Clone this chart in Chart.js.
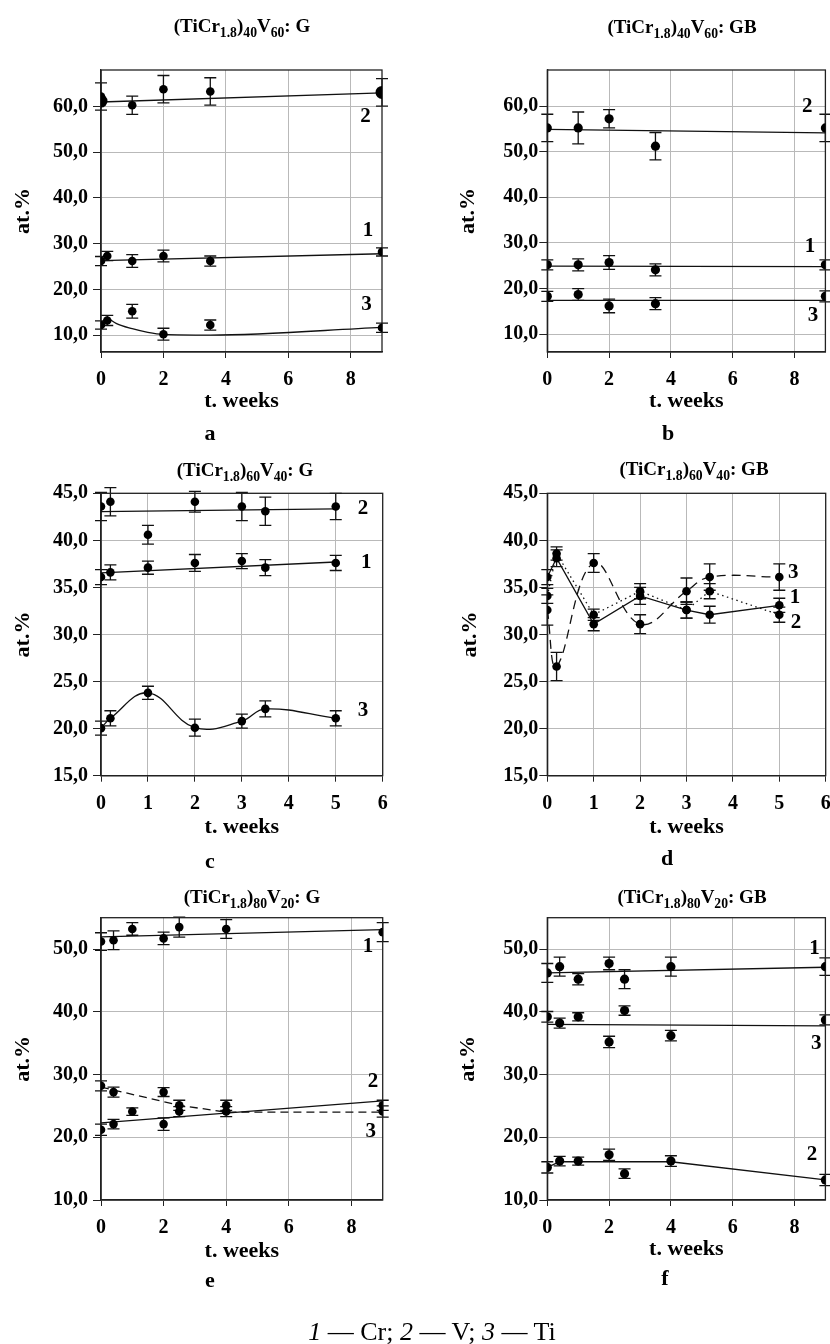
<!DOCTYPE html>
<html><head><meta charset="utf-8">
<script src="https://cdn.jsdelivr.net/npm/chart.js@4.4.1/dist/chart.umd.min.js"></script>
<style>
html,body{margin:0;padding:0;background:#fff;}
body{width:830px;height:1344px;position:relative;overflow:hidden;font-family:"Liberation Serif","Times New Roman",serif;color:#000;}
canvas{position:absolute;}
.ttl{position:absolute;transform:translate(-50%,-50%);font-weight:bold;font-size:19px;line-height:1;white-space:nowrap;}
.ttl sub{font-size:0.72em;vertical-align:baseline;position:relative;top:0.38em;}
.lt{position:absolute;transform:translate(-50%,-50%);font-weight:bold;font-size:22px;line-height:1;}
.cap{position:absolute;transform:translate(-50%,-50%);font-size:26px;line-height:1;white-space:nowrap;}
</style>
</head><body>
<canvas id="cA" width="415" height="440" style="left:0;top:0"></canvas>
<canvas id="cB" width="415" height="440" style="left:415px;top:0"></canvas>
<canvas id="cC" width="415" height="440" style="left:0;top:440px"></canvas>
<canvas id="cD" width="415" height="440" style="left:415px;top:440px"></canvas>
<canvas id="cE" width="415" height="464" style="left:0;top:880px"></canvas>
<canvas id="cF" width="415" height="464" style="left:415px;top:880px"></canvas>

<div class="ttl" style="left:242px;top:25px">(TiCr<sub>1.8</sub>)<sub>40</sub>V<sub>60</sub>: G</div>
<div class="ttl" style="left:682px;top:26px">(TiCr<sub>1.8</sub>)<sub>40</sub>V<sub>60</sub>: GB</div>
<div class="ttl" style="left:245px;top:469px">(TiCr<sub>1.8</sub>)<sub>60</sub>V<sub>40</sub>: G</div>
<div class="ttl" style="left:694px;top:468px">(TiCr<sub>1.8</sub>)<sub>60</sub>V<sub>40</sub>: GB</div>
<div class="ttl" style="left:252px;top:896px">(TiCr<sub>1.8</sub>)<sub>80</sub>V<sub>20</sub>: G</div>
<div class="ttl" style="left:692px;top:896px">(TiCr<sub>1.8</sub>)<sub>80</sub>V<sub>20</sub>: GB</div>

<div class="lt" style="left:210px;top:433px">a</div>
<div class="lt" style="left:668px;top:433px">b</div>
<div class="lt" style="left:210px;top:861px">c</div>
<div class="lt" style="left:667px;top:858px">d</div>
<div class="lt" style="left:210px;top:1280px">e</div>
<div class="lt" style="left:665px;top:1278px">f</div>

<div class="cap" style="left:432px;top:1332px"><i>1</i> — Cr; <i>2</i> — V; <i>3</i> — Ti</div>

<script>
// ---------- Panel a: (TiCr1.8)40V60: G ----------
const A_T = [0, 0.2, 1, 2, 3.5, 9];
const A_CR = [26.2, 27.3, 26.2, 27.3, 26.2, 28.2];
const A_CR_ERR = [1.0, 1.0, 1.4, 1.3, 1.1, 0.9];
const A_T_V = [0, 0, 1, 2, 3.5, 9];
const A_V = [62.2, 61.2, 60.3, 63.8, 63.3, 63.1];
const A_V_ERR = [3.0, 0, 2.0, 3.0, 3.0, 3.0];
const A_TI = [12.2, 13.2, 15.2, 10.2, 12.2, 11.6];
const A_TI_ERR = [0.9, 1.1, 1.5, 1.3, 1.1, 1.0];
const A_FIT_T = [0, 9];
const A_CR_FIT = [26.3, 27.8];
const A_V_FIT = [61.0, 63.0];
const A_TI_FIT_T = [0.2, 0.5, 1, 1.5, 2, 3.5, 9];
const A_TI_FIT = [13.8, 12.5, 11.4, 10.6, 10.15, 10.0, 11.7];

// ---------- Panel b: (TiCr1.8)40V60: GB ----------
const B_T = [0, 1, 2, 3.5, 9];
const B_V = [55.2, 55.2, 57.2, 51.2, 55.2];
const B_V_ERR = [3.0, 3.5, 2.0, 3.0, 3.0];
const B_CR = [25.2, 25.2, 25.7, 24.1, 25.2];
const B_CR_ERR = [1.1, 1.3, 1.5, 1.3, 1.1];
const B_TI = [18.3, 18.7, 16.2, 16.7, 18.3];
const B_TI_ERR = [1.1, 1.3, 1.5, 1.3, 1.2];
const B_FIT_T = [0, 9];
const B_V_FIT = [54.9, 54.1];
const B_CR_FIT = [24.9, 24.8];
const B_TI_FIT = [17.4, 17.4];

// ---------- Panel c: (TiCr1.8)60V40: G ----------
const C_T = [0, 0.2, 1, 2, 3, 3.5, 5];
const C_V = [43.6, 44.1, 40.6, 44.1, 43.6, 43.1, 43.6];
const C_V_ERR = [1.5, 1.5, 1.0, 1.1, 1.5, 1.5, 1.4];
const C_CR = [36.1, 36.6, 37.1, 37.6, 37.8, 37.1, 37.6];
const C_CR_ERR = [0.8, 0.8, 0.7, 0.9, 0.8, 0.85, 0.8];
const C_TI = [20.05, 21.1, 23.8, 20.1, 20.8, 22.1, 21.1];
const C_TI_ERR = [0.75, 0.8, 0.7, 0.9, 0.75, 0.85, 0.8];
const C_FIT_T = [0, 5];
const C_V_FIT = [43.05, 43.35];
const C_CR_FIT = [36.55, 37.7];

// ---------- Panel d: (TiCr1.8)60V40: GB ----------
const D_T = [0, 0.2, 1, 2, 3, 3.5, 5];
const D_CR = [34.1, 38.6, 32.1, 34.6, 32.6, 34.6, 32.1];
const D_CR_ERR = [0.8, 0.7, 0.6, 0.8, 0.85, 0.8, 0.8];
const D_V = [36.1, 38.1, 31.1, 34.1, 32.6, 32.1, 33.1];
const D_V_ERR = [0.8, 0.9, 0.7, 0.9, 0.85, 0.9, 0.75];
const D_TI = [32.6, 26.6, 37.6, 31.1, 34.6, 36.1, 36.1];
const D_TI_ERR = [1.6, 1.5, 1.0, 1.0, 1.4, 1.4, 1.4];

// ---------- Panel e: (TiCr1.8)80V20: G ----------
const E_T = [0, 0.4, 1, 2, 2.5, 4, 9];
const E_CR = [51.2, 51.4, 53.2, 51.7, 53.5, 53.2, 52.7];
const E_CR_ERR = [1.4, 1.5, 1.0, 1.0, 1.6, 1.5, 1.5];
const E_V = [28.2, 27.2, 24.1, 27.2, 25.1, 25.1, 25.1];
const E_V_ERR = [0.8, 0.8, 0.6, 0.7, 0.8, 0.8, 0.8];
const E_T_TI = [0, 0.4, 2, 2.5, 4, 9];
const E_TI = [21.2, 22.1, 22.1, 24.1, 24.1, 24.1];
const E_TI_ERR = [0.9, 0.75, 1.0, 0.8, 0.8, 0.9];
const E_FIT_T = [0, 9];
const E_CR_FIT = [51.95, 53.1];
const E_TI_FIT = [22.3, 25.8];
const E_V_FIT_T = [0, 2.5, 4, 9];
const E_V_FIT = [28.0, 25.1, 24.0, 24.0];

// ---------- Panel f: (TiCr1.8)80V20: GB ----------
const F_T = [0, 0.4, 1, 2, 2.5, 4, 9];
const F_CR = [46.2, 47.2, 45.2, 47.7, 45.2, 47.2, 47.2];
const F_CR_ERR = [1.5, 1.5, 0.9, 1.0, 1.5, 1.5, 1.4];
const F_TI = [39.2, 38.2, 39.2, 35.2, 40.2, 36.2, 38.7];
const F_TI_ERR = [0.85, 0.8, 0.65, 0.9, 0.75, 0.85, 0.8];
const F_V = [15.2, 16.2, 16.2, 17.2, 14.2, 16.2, 13.2];
const F_V_ERR = [0.9, 0.75, 0.65, 0.9, 0.75, 0.85, 0.9];
const F_FIT_T = [0, 9];
const F_CR_FIT = [46.2, 47.1];
const F_TI_FIT = [38.0, 37.75];
const F_V_FIT_T = [0, 0.4, 4, 9];
const F_V_FIT = [15.2, 16.1, 16.1, 13.2];

// ---------- tick values ----------
const X_TICKS_9 = [0, 2, 4, 6, 8];
const X_TICKS_6 = [0, 1, 2, 3, 4, 5, 6];
const Y_TICKS_60 = [10, 20, 30, 40, 50, 60];
const Y_TICKS_45 = [15, 20, 25, 30, 35, 40, 45];
const Y_TICKS_50 = [10, 20, 30, 40, 50];

// ---------- helpers ----------
const FONT = '"Liberation Serif", "Times New Roman", serif';
const toPts = (xs, ys) => xs.map((x, i) => ({x: x, y: ys[i]}));

function marks(xs, ys, errs, radius) {
  return {type: 'scatter', data: toPts(xs, ys), errs: errs, showLine: false,
    pointRadius: radius || 4.3, pointHoverRadius: radius || 4.3,
    pointBackgroundColor: '#000', pointBorderColor: '#000', pointBorderWidth: 0, order: 1};
}
function curve(xs, ys, dash, tension, mode) {
  return {type: 'line', data: toPts(xs, ys), showLine: true, borderColor: '#111',
    borderWidth: 1.3, borderDash: dash || [], pointRadius: 0, fill: false,
    tension: tension || 0, cubicInterpolationMode: mode || 'default', order: 2};
}

const errPlugin = {
  id: 'errbars',
  beforeDatasetsDraw(chart) {
    const ctx = chart.ctx, xs = chart.scales.x, ys = chart.scales.y;
    ctx.save();
    ctx.strokeStyle = '#111';
    ctx.lineWidth = 1.3;
    chart.data.datasets.forEach(ds => {
      if (!ds.errs) return;
      ds.data.forEach((p, i) => {
        const e = ds.errs[i];
        if (!e) return;
        const px = xs.getPixelForValue(p.x);
        const y1 = ys.getPixelForValue(p.y - e), y2 = ys.getPixelForValue(p.y + e);
        ctx.beginPath();
        ctx.moveTo(px, y1); ctx.lineTo(px, y2);
        ctx.moveTo(px - 6, y1); ctx.lineTo(px + 6, y1);
        ctx.moveTo(px - 6, y2); ctx.lineTo(px + 6, y2);
        ctx.stroke();
      });
    });
    ctx.restore();
  }
};
const boxPlugin = {
  id: 'plotbox',
  beforeDatasetsDraw(chart) {
    const a = chart.chartArea, ctx = chart.ctx;
    ctx.save();
    ctx.strokeStyle = '#222';
    ctx.lineWidth = 1.3;
    ctx.strokeRect(a.left, a.top, a.right - a.left, a.bottom - a.top);
    ctx.restore();
  }
};
const labelPlugin = {
  id: 'curveLabels',
  afterDatasetsDraw(chart, args, opts) {
    const ctx = chart.ctx, xs = chart.scales.x, ys = chart.scales.y;
    ctx.save();
    ctx.fillStyle = '#000';
    ctx.font = 'bold 21px ' + FONT;
    ctx.textAlign = 'center';
    ctx.textBaseline = 'middle';
    (opts.items || []).forEach(it => {
      ctx.fillText(it.t, xs.getPixelForValue(it.x), ys.getPixelForValue(it.y));
    });
    ctx.restore();
  }
};

function makeChart(id, g, ax, datasets, labels) {
  const tickFont = {family: FONT, size: 20, weight: 'bold'};
  const titleFont = {family: FONT, size: 22, weight: 'bold'};
  new Chart(document.getElementById(id), {
    type: 'scatter',
    data: {datasets: datasets},
    options: {
      responsive: false, animation: false, events: [],
      layout: {padding: {left: 0, top: g.T, right: g.W - g.R, bottom: 0}},
      plugins: {legend: {display: false}, tooltip: {enabled: false}, title: {display: false},
        curveLabels: {items: labels}},
      scales: {
        x: {type: 'linear', min: ax.xmin, max: ax.xmax,
          afterBuildTicks: s => { s.ticks = ax.xt.map(v => ({value: v})); },
          afterFit: s => { s.height = g.H - g.B; s.paddingLeft = 0; s.paddingRight = 0; },
          ticks: {font: tickFont, color: '#000', padding: 10, autoSkip: false, maxRotation: 0,
            callback: v => String(v)},
          grid: {color: '#b9b9b9', tickColor: '#222', tickLength: 6, lineWidth: 1},
          border: {color: '#222', width: 1.3},
          title: {display: true, text: 't. weeks', font: titleFont, color: '#000',
            padding: {top: 0, bottom: g.xPad}}
        },
        y: {type: 'linear', min: ax.ymin, max: ax.ymax,
          afterBuildTicks: s => { s.ticks = ax.yt.map(v => ({value: v})); },
          afterFit: s => { s.width = g.L; s.paddingTop = 0; s.paddingBottom = 0; },
          ticks: {font: tickFont, color: '#000', padding: g.yTickPad, autoSkip: false,
            callback: v => Number(v).toFixed(1).replace('.', ',')},
          grid: {color: '#b9b9b9', tickColor: '#222', tickLength: 8, lineWidth: 1},
          border: {color: '#222', width: 1.3},
          title: {display: true, text: 'at.%', font: titleFont, color: '#000',
            padding: {top: g.yPad, bottom: 0}}
        }
      }
    },
    plugins: [errPlugin, boxPlugin, labelPlugin]
  });
}

// ---------- panel a ----------
makeChart('cA',
  {W: 415, H: 440, L: 101, R: 382, T: 70, B: 352, xPad: 25, yPad: 10, yTickPad: 5},
  {xmin: 0, xmax: 9, xt: X_TICKS_9, ymin: 6.3, ymax: 68, yt: Y_TICKS_60},
  [
    marks(A_T, A_CR, A_CR_ERR),
    Object.assign(marks(A_T_V, A_V, A_V_ERR), {pointRadius: [4.3, 6.5, 4.3, 4.3, 4.3, 6.5]}),
    marks(A_T, A_TI, A_TI_ERR),
    curve(A_FIT_T, A_CR_FIT),
    curve(A_FIT_T, A_V_FIT),
    curve(A_TI_FIT_T, A_TI_FIT, [], 0, 'monotone')
  ],
  [{t: '2', x: 8.47, y: 57.8}, {t: '1', x: 8.55, y: 32.8}, {t: '3', x: 8.5, y: 16.6}]
);

// ---------- panel b ----------
makeChart('cB',
  {W: 415, H: 440, L: 132.3, R: 414.3, T: 70, B: 352, xPad: 25, yPad: 40, yTickPad: 1},
  {xmin: 0, xmax: 9, xt: X_TICKS_9, ymin: 6.1, ymax: 67.9, yt: Y_TICKS_60},
  [
    marks(B_T, B_V, B_V_ERR, 4.6),
    marks(B_T, B_CR, B_CR_ERR, 4.6),
    marks(B_T, B_TI, B_TI_ERR, 4.6),
    curve(B_FIT_T, B_V_FIT),
    curve(B_FIT_T, B_CR_FIT),
    curve(B_FIT_T, B_TI_FIT)
  ],
  [{t: '2', x: 8.41, y: 59.9}, {t: '1', x: 8.5, y: 29.3}, {t: '3', x: 8.6, y: 14.1}]
);

// ---------- panel c ----------
makeChart('cC',
  {W: 415, H: 440, L: 101, R: 382.7, T: 53.3, B: 335.7, xPad: 39, yPad: 10, yTickPad: 5},
  {xmin: 0, xmax: 6, xt: X_TICKS_6, ymin: 15, ymax: 45, yt: Y_TICKS_45},
  [
    marks(C_T, C_V, C_V_ERR),
    marks(C_T, C_CR, C_CR_ERR),
    marks(C_T, C_TI, C_TI_ERR),
    curve(C_FIT_T, C_V_FIT),
    curve(C_FIT_T, C_CR_FIT),
    curve(C_T, C_TI, [], 0.4)
  ],
  [{t: '2', x: 5.58, y: 43.4}, {t: '1', x: 5.65, y: 37.6}, {t: '3', x: 5.58, y: 21.9}]
);

// ---------- panel d ----------
makeChart('cD',
  {W: 415, H: 440, L: 132.3, R: 414.3, T: 53.3, B: 335.7, xPad: 39, yPad: 42, yTickPad: 1},
  {xmin: 0, xmax: 6, xt: X_TICKS_6, ymin: 15, ymax: 45, yt: Y_TICKS_45},
  [
    marks(D_T, D_CR, D_CR_ERR),
    marks(D_T, D_V, D_V_ERR),
    marks(D_T, D_TI, D_TI_ERR),
    curve(D_T, D_CR, [1.5, 3.5]),
    curve(D_T, D_V),
    curve(D_T, D_TI, [9, 6], 0.4)
  ],
  [{t: '3', x: 5.3, y: 36.6}, {t: '1', x: 5.34, y: 33.9}, {t: '2', x: 5.36, y: 31.3}]
);

// ---------- panel e ----------
makeChart('cE',
  {W: 415, H: 464, L: 101, R: 382.7, T: 37.7, B: 320, xPad: 79, yPad: 10, yTickPad: 5},
  {xmin: 0, xmax: 9, xt: X_TICKS_9, ymin: 10, ymax: 55, yt: Y_TICKS_50},
  [
    marks(E_T, E_CR, E_CR_ERR),
    marks(E_T, E_V, E_V_ERR),
    marks(E_T_TI, E_TI, E_TI_ERR),
    curve(E_FIT_T, E_CR_FIT),
    curve(E_V_FIT_T, E_V_FIT, [8, 5]),
    curve(E_FIT_T, E_TI_FIT)
  ],
  [{t: '1', x: 8.53, y: 50.4}, {t: '2', x: 8.69, y: 28.9}, {t: '3', x: 8.62, y: 20.9}]
);

// ---------- panel f ----------
makeChart('cF',
  {W: 415, H: 464, L: 132.3, R: 414.3, T: 37.7, B: 320, xPad: 81, yPad: 40, yTickPad: 1},
  {xmin: 0, xmax: 9, xt: X_TICKS_9, ymin: 10, ymax: 55, yt: Y_TICKS_50},
  [
    marks(F_T, F_CR, F_CR_ERR, 4.6),
    marks(F_T, F_TI, F_TI_ERR, 4.6),
    marks(F_T, F_V, F_V_ERR, 4.6),
    curve(F_FIT_T, F_CR_FIT),
    curve(F_FIT_T, F_TI_FIT),
    curve(F_V_FIT_T, F_V_FIT)
  ],
  [{t: '1', x: 8.65, y: 50.1}, {t: '3', x: 8.7, y: 35.0}, {t: '2', x: 8.57, y: 17.3}]
);
</script>
</body></html>
